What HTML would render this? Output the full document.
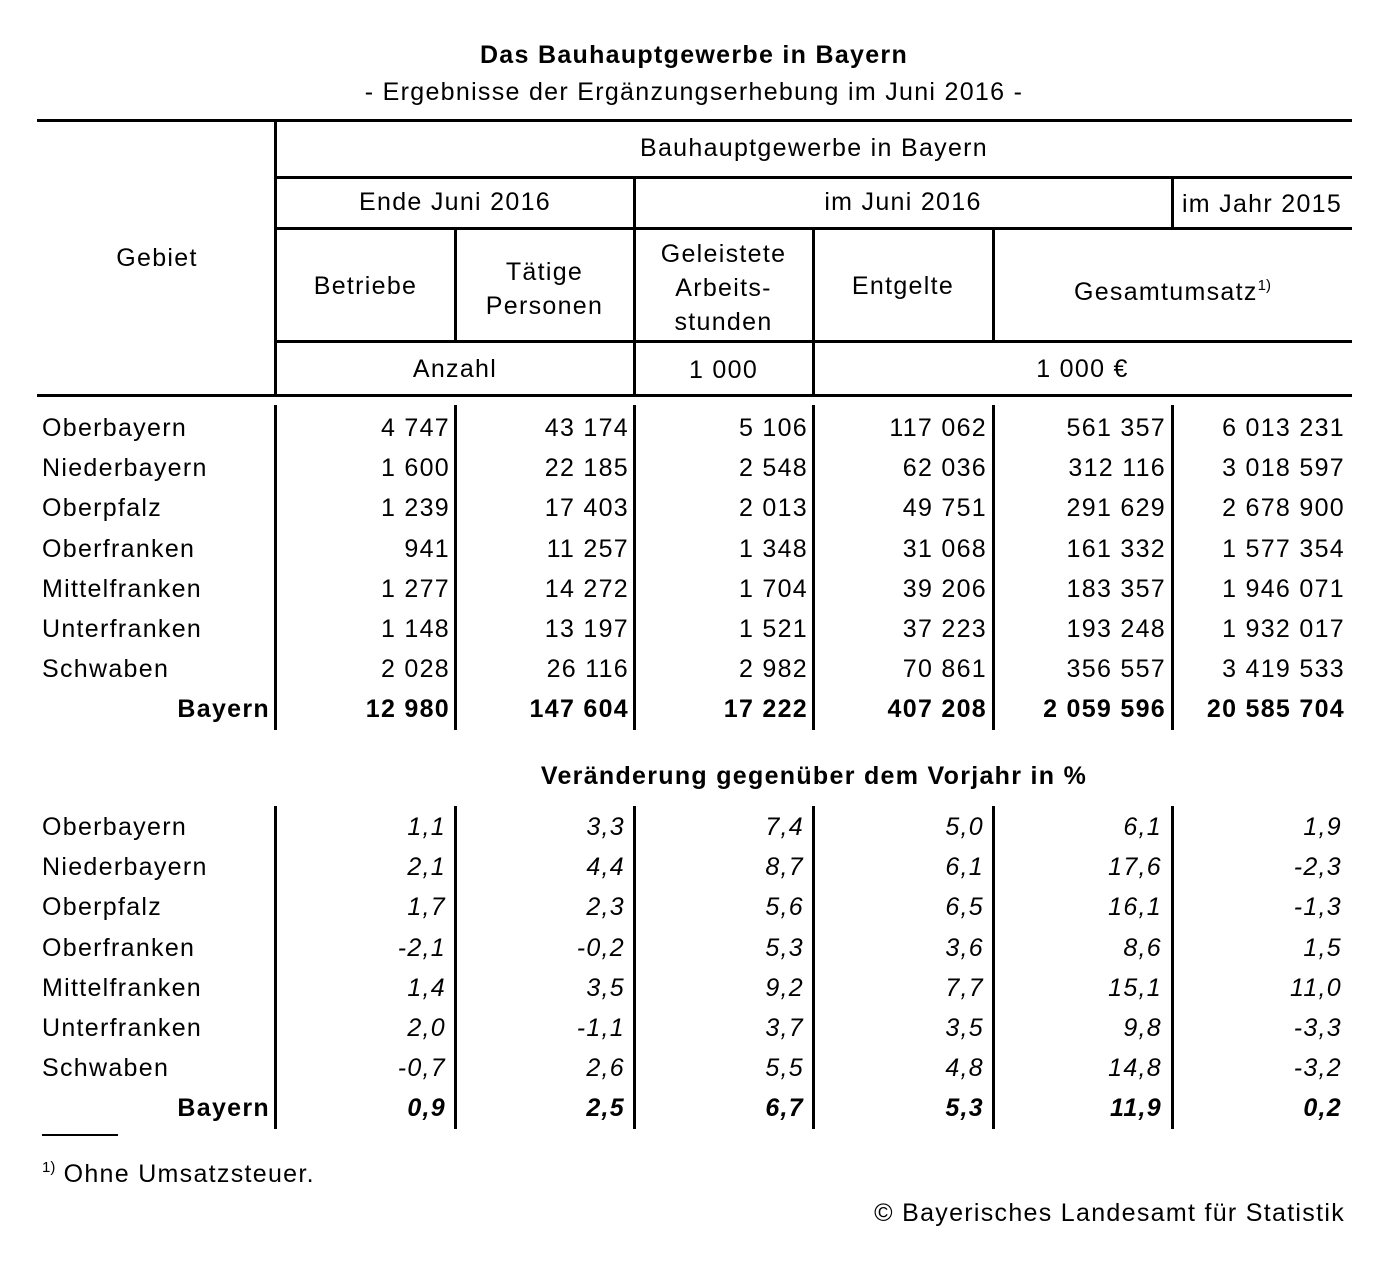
<!DOCTYPE html>
<html><head><meta charset="utf-8"><style>
body{margin:0;width:1397px;height:1261px;background:#fff;position:relative;font-family:"Liberation Sans",Arial,sans-serif;color:#000;overflow:hidden}
.h{position:absolute;background:#000;height:3px}
.v{position:absolute;background:#000;width:3px}
.t{position:absolute;font-size:25px;letter-spacing:1.3px;line-height:28px;white-space:nowrap}
.c{text-align:center}
.r{text-align:right;margin-right:-1.3px}
.b{font-weight:bold}
.i{font-style:italic}
</style></head><body>
<div class="t c b" style="left:0;width:1388px;top:41px;">Das Bauhauptgewerbe in Bayern</div>
<div class="t c" style="left:0;width:1388px;top:78px;">- Ergebnisse der Ergänzungserhebung im Juni 2016 -</div>

<div class="h" style="left:37px;width:1315px;top:119px"></div>
<div class="h" style="left:276px;width:1076px;top:176px"></div>
<div class="h" style="left:276px;width:1076px;top:227px"></div>
<div class="h" style="left:276px;width:1076px;top:340px"></div>
<div class="h" style="left:37px;width:1315px;top:394px"></div>
<div class="v" style="left:274px;top:119px;height:278px"></div>
<div class="v" style="left:633px;top:176px;height:220px"></div>
<div class="v" style="left:1171px;top:176px;height:53px"></div>
<div class="v" style="left:454px;top:227px;height:115px"></div>
<div class="v" style="left:812px;top:227px;height:169px"></div>
<div class="v" style="left:992px;top:227px;height:115px"></div>

<div class="t c" style="left:37px;width:240px;top:244px">Gebiet</div>
<div class="t c" style="left:276px;width:1076px;top:134px">Bauhauptgewerbe in Bayern</div>
<div class="t c" style="left:276px;width:358px;top:188px">Ende Juni 2016</div>
<div class="t c" style="left:634px;width:538px;top:188px">im Juni 2016</div>
<div class="t c" style="left:1172px;width:180px;top:190px">im Jahr 2015</div>
<div class="t c" style="left:276px;width:179px;top:272px">Betriebe</div>
<div class="t c" style="left:455px;width:179px;top:255px;line-height:34px">Tätige<br>Personen</div>
<div class="t c" style="left:634px;width:179px;top:237px;line-height:34px">Geleistete<br>Arbeits-<br>stunden</div>
<div class="t c" style="left:813px;width:180px;top:272px">Entgelte</div>
<div class="t c" style="left:993px;width:359px;top:272px">Gesamtumsatz<sup style="font-size:15px;vertical-align:10px;letter-spacing:0">1)</sup></div>
<div class="t c" style="left:276px;width:358px;top:355px">Anzahl</div>
<div class="t c" style="left:634px;width:179px;top:356px">1 000</div>
<div class="t c" style="left:813px;width:539px;top:355px">1 000 €</div>

<div class="v" style="left:274px;top:405px;height:325px"></div>
<div class="v" style="left:454px;top:405px;height:325px"></div>
<div class="v" style="left:633px;top:405px;height:325px"></div>
<div class="v" style="left:812px;top:405px;height:325px"></div>
<div class="v" style="left:992px;top:405px;height:325px"></div>
<div class="v" style="left:1171px;top:405px;height:325px"></div>
<div class="v" style="left:274px;top:806px;height:323px"></div>
<div class="v" style="left:454px;top:806px;height:323px"></div>
<div class="v" style="left:633px;top:806px;height:323px"></div>
<div class="v" style="left:812px;top:806px;height:323px"></div>
<div class="v" style="left:992px;top:806px;height:323px"></div>
<div class="v" style="left:1171px;top:806px;height:323px"></div>

<div id="d1"></div>
<div class="t c b" style="left:276px;width:1076px;top:762px">Veränderung gegenüber dem Vorjahr in %</div>

<div class="h" style="left:42px;width:76px;top:1134px;height:2px"></div>
<div class="t" style="left:42px;top:1154px"><sup style="font-size:15px;vertical-align:10px;letter-spacing:0">1)</sup> Ohne Umsatzsteuer.</div>
<div class="t r" style="left:700px;width:645px;top:1199px">© Bayerisches Landesamt für Statistik</div>

<script>
var names=["Oberbayern","Niederbayern","Oberpfalz","Oberfranken","Mittelfranken","Unterfranken","Schwaben","Bayern"];
var a=[["4 747","43 174","5 106","117 062","561 357","6 013 231"],["1 600","22 185","2 548","62 036","312 116","3 018 597"],["1 239","17 403","2 013","49 751","291 629","2 678 900"],["941","11 257","1 348","31 068","161 332","1 577 354"],["1 277","14 272","1 704","39 206","183 357","1 946 071"],["1 148","13 197","1 521","37 223","193 248","1 932 017"],["2 028","26 116","2 982","70 861","356 557","3 419 533"],["12 980","147 604","17 222","407 208","2 059 596","20 585 704"]];
var p=[["1,1","3,3","7,4","5,0","6,1","1,9"],["2,1","4,4","8,7","6,1","17,6","-2,3"],["1,7","2,3","5,6","6,5","16,1","-1,3"],["-2,1","-0,2","5,3","3,6","8,6","1,5"],["1,4","3,5","9,2","7,7","15,1","11,0"],["2,0","-1,1","3,7","3,5","9,8","-3,3"],["-0,7","2,6","5,5","4,8","14,8","-3,2"],["0,9","2,5","6,7","5,3","11,9","0,2"]];
var R1=[450,629,808,987,1166,1345],R2=[446,625,804,984,1162,1342];
var h="";
function block(d,top,R,it){for(var i=0;i<8;i++){var y=top+i*40.2;var bold=i==7?" b":"";
 if(i==7)h+='<div class="t r b" style="left:37px;width:233px;top:'+y+'px">Bayern</div>';
 else h+='<div class="t" style="left:42px;top:'+y+'px">'+names[i]+'</div>';
 for(var j=0;j<6;j++)h+='<div class="t r'+bold+(it?' i':'')+'" style="left:'+(R[j]-170)+'px;width:170px;top:'+y+'px">'+d[i][j]+'</div>';}}
block(a,414,R1,false);block(p,813,R2,true);
document.getElementById("d1").outerHTML=h;
</script>
</body></html>
